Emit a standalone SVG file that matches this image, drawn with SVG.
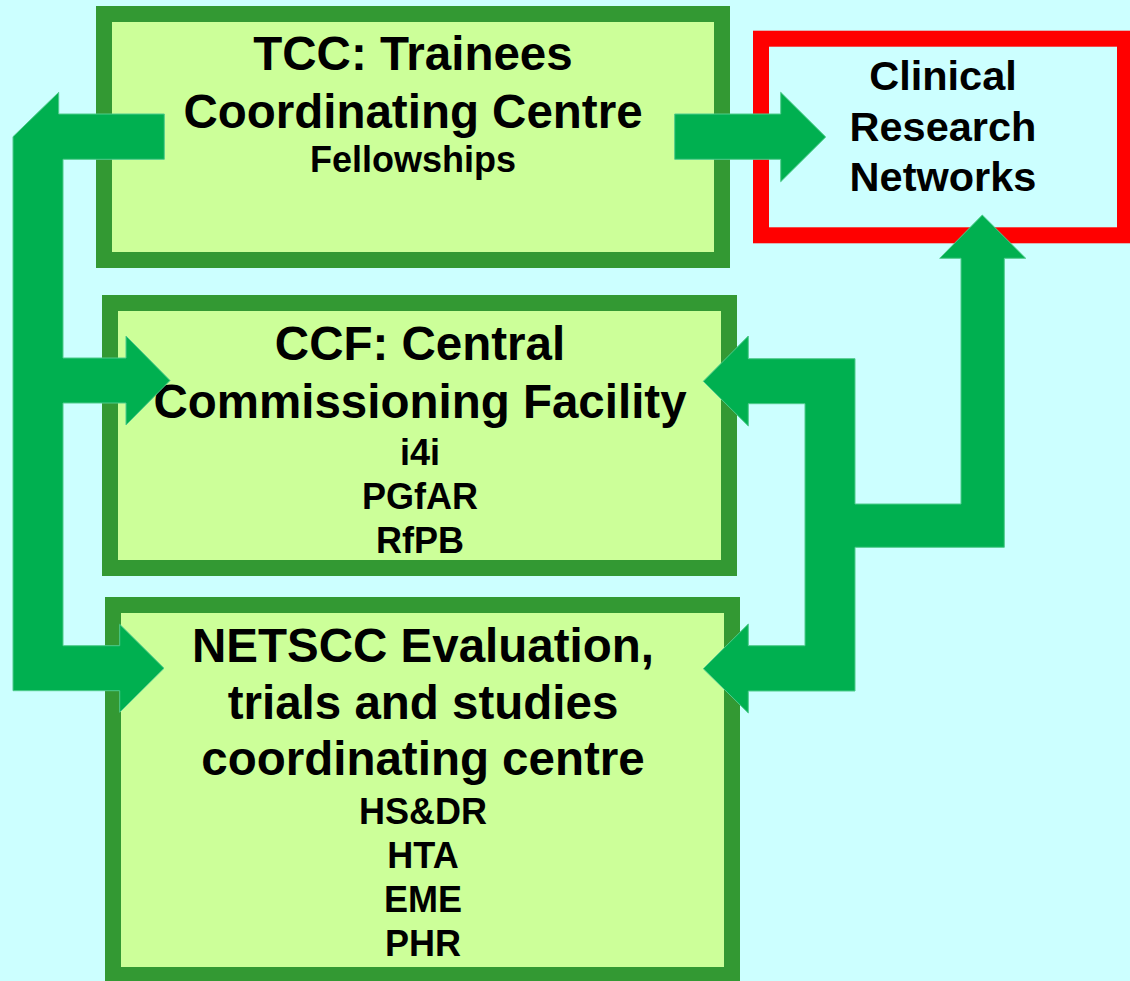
<svg xmlns="http://www.w3.org/2000/svg" width="1130" height="981" viewBox="0 0 1130 981">
  <style>
    .box { fill: #CCFF99; stroke: #339933; stroke-width: 16; }
    .crn { fill: #CCFFFF; stroke: #FF0000; stroke-width: 16; }
    .t { font-family: "Liberation Sans", Arial, sans-serif; font-weight: bold; fill: #000; text-anchor: middle; }
    .big { font-size: 47.5px; }
    .mid { font-size: 41.5px; }
    .sm { font-size: 36px; }
    .arr { fill: #00B050; stroke: #4FCB8C; stroke-width: 1; stroke-linejoin: miter; }
  </style>
  <rect x="0" y="0" width="1130" height="981" fill="#CCFFFF"/>

  <g id="tcc">
    <rect class="box" x="104" y="14" width="618" height="246"/>
    <text class="t big" x="413" y="70">TCC: Trainees</text>
    <text class="t big" x="413" y="128">Coordinating Centre</text>
    <text class="t sm" x="413" y="172">Fellowships</text>
  </g>

  <g id="ccf">
    <rect class="box" x="110" y="303" width="619" height="265"/>
    <text class="t big" x="420" y="360">CCF: Central</text>
    <text class="t big" x="420" y="418">Commissioning Facility</text>
    <text class="t sm" x="420" y="465">i4i</text>
    <text class="t sm" x="420" y="509">PGfAR</text>
    <text class="t sm" x="420" y="553">RfPB</text>
  </g>

  <g id="netscc">
    <rect class="box" x="113" y="605" width="619" height="370"/>
    <text class="t big" x="423" y="662">NETSCC Evaluation,</text>
    <text class="t big" x="423" y="719">trials and studies</text>
    <text class="t big" x="423" y="775">coordinating centre</text>
    <text class="t sm" x="423" y="824">HS&amp;DR</text>
    <text class="t sm" x="423" y="868">HTA</text>
    <text class="t sm" x="423" y="912">EME</text>
    <text class="t sm" x="423" y="956">PHR</text>
  </g>

  <g id="crn">
    <rect class="crn" x="761" y="38.7" width="364" height="196.6"/>
    <text class="t mid" x="943" y="90">Clinical</text>
    <text class="t mid" x="943" y="140.5">Research</text>
    <text class="t mid" x="943" y="191">Networks</text>
  </g>

  <g id="connectors">
    <polygon class="arr" points="13,136.7 58.7,92.3 58.7,114 164.3,114 164.3,159.3 63,159.3 63,358 126,358 126,336 170,380.5 126,425 126,403 63,403 63,645.7 119.7,645.7 119.7,624.3 164,668.3 119.7,712.3 119.7,690.7 13,690.7"/>
    <polygon class="arr" points="674.7,114 780.7,114 780.7,92.3 825.7,137 780.7,181.7 780.7,159.3 674.7,159.3"/>
    <polygon class="arr" points="982.3,215 1025.7,258.3 1004.3,258.3 1004.3,547.3 855,547.3 855,691 748.3,691 748.3,713 703.3,668.7 748.3,624 748.3,645.7 805,645.7 805,403.7 748.3,403.7 748.3,426 703.3,381.3 748.3,336 748.3,358.7 855,358.7 855,504 961,504 961,258.3 939.7,258.3"/>
  </g>
</svg>
